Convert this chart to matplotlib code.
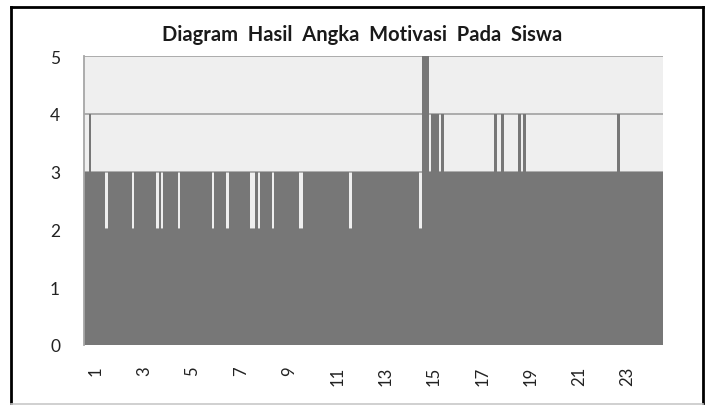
import matplotlib
matplotlib.use("Agg")
import matplotlib.pyplot as plt
from matplotlib.lines import Line2D
import numpy as np

title = "Diagram  Hasil  Angka  Motivasi  Pada  Siswa"
categories = list(range(1, 25))
tick_labels = [str(c) for c in categories if c % 2 == 1]

# scores of each respondent (10 per category)
scores = [
    [3, 3, 4, 3, 3, 3, 3, 3, 3, 2],
    [3, 3, 3, 3, 3, 3, 3, 3, 3, 3],
    [2, 3, 3, 3, 3, 3, 3, 3, 3, 3],
    [2, 3, 2, 3, 3, 3, 3, 3, 3, 2],
    [3, 3, 3, 3, 3, 3, 3, 3, 3, 3],
    [3, 3, 3, 2, 3, 3, 3, 3, 3, 2],
    [3, 3, 3, 3, 3, 3, 3, 3, 3, 2],
    [2, 3, 2, 3, 3, 3, 3, 3, 2, 3],
    [3, 3, 3, 3, 3, 3, 3, 3, 3, 2],
    [2, 3, 3, 3, 3, 3, 3, 3, 3, 3],
    [3, 3, 3, 3, 3, 3, 3, 3, 3, 3],
    [2, 3, 3, 3, 3, 3, 3, 3, 3, 3],
    [3, 3, 3, 3, 3, 3, 3, 3, 3, 3],
    [3, 3, 3, 3, 3, 3, 3, 3, 3, 2],
    [5, 5, 5, 3, 4, 4, 4, 3, 4, 3],
    [3, 3, 3, 3, 3, 3, 3, 3, 3, 3],
    [3, 3, 3, 3, 3, 3, 3, 3, 3, 3],
    [4, 3, 3, 4, 3, 3, 3, 3, 3, 3],
    [4, 3, 4, 3, 3, 3, 3, 3, 3, 3],
    [3, 3, 3, 3, 3, 3, 3, 3, 3, 3],
    [3, 3, 3, 3, 3, 3, 3, 3, 3, 3],
    [3, 3, 3, 3, 3, 3, 3, 3, 3, 3],
    [3, 4, 3, 3, 3, 3, 3, 3, 3, 3],
    [3, 3, 3, 3, 3, 3, 3, 3, 3, 3],
]

plt.rcParams['font.family'] = ['Lato', 'DejaVu Sans']

W, H = 710, 406
fig = plt.figure(figsize=(W / 100, H / 100), dpi=100)
fig.patch.set_facecolor('white')

# outer chart frame
def fline(x0, y0, x1, y1, color, lw):
    fig.add_artist(Line2D([x0 / W, x1 / W], [1 - y0 / H, 1 - y1 / H],
                          transform=fig.transFigure, color=color,
                          linewidth=lw, solid_capstyle='projecting'))

fline(11, 8, 703, 8, 'black', 2.0)
fline(11, 8, 11, 404, 'black', 2.0)
fline(703, 8, 703, 404, 'black', 2.0)
fline(11, 404.5, 703, 404.5, '#c8c8c8', 1.2)

ax = fig.add_axes([83.7 / W, 1 - 346 / H, (663.3 - 83.7) / W, (346 - 57) / H])
ax.set_facecolor('#efefef')

n_sub = len(scores[0])
xs, hs = [], []
for ci, row in enumerate(scores):
    for si, v in enumerate(row):
        xs.append(ci + si / n_sub)
        hs.append(v)
ax.bar(xs, hs, width=1 / n_sub, align='edge', color='#777777',
       linewidth=0, zorder=2)

ax.set_xlim(0, len(categories))
ax.set_ylim(0, 5)
ax.set_yticks(range(0, 6))
ax.yaxis.grid(True, color='#a6a6a6', linewidth=1.3, zorder=1)
ax.set_axisbelow(True)

ax.set_xticks([c - 0.5 for c in categories if c % 2 == 1])
ax.set_xticklabels(tick_labels, rotation=90)
ax.tick_params(axis='x', length=0, pad=15, labelsize=12, colors='#222222')
ax.tick_params(axis='y', length=0, pad=17, labelsize=12.5, colors='#222222')

for s in ['top', 'right', 'bottom']:
    ax.spines[s].set_visible(False)
ax.spines['left'].set_color('#a6a6a6')
ax.spines['left'].set_linewidth(1.3)

fig.text(362 / W, 1 - 35 / H, title, ha='center', va='center',
         fontsize=14.5, fontweight='bold', color='#1a1a1a')

fig.savefig('out.png', dpi=100, facecolor='white')
